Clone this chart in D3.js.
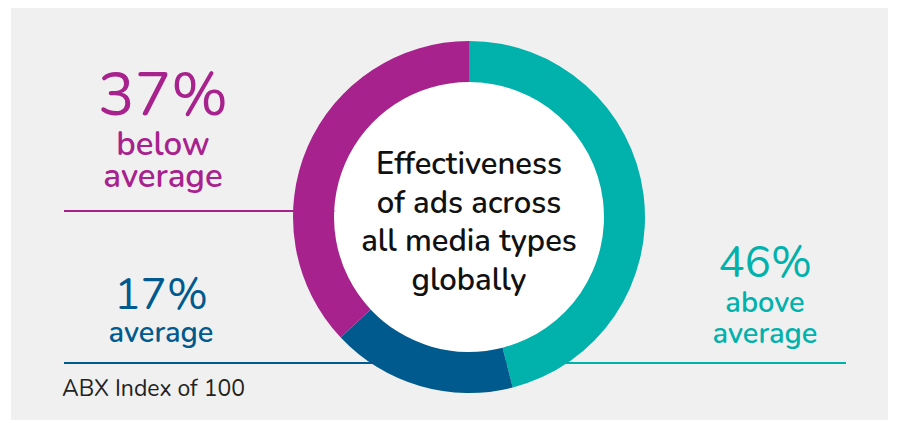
<!DOCTYPE html>
<html>
<head>
<meta charset="utf-8">
<script src="https://cdn.jsdelivr.net/npm/d3@7"></script>
<style>
  body { margin: 0; background: #fff; }
  text { font-family: "Nunito", "Lato", sans-serif; }
</style>
</head>
<body>
<script>
var categories = ["above average", "average", "below average"];
var values = [46, 17, 37];
var colors = ["#00B1AC", "#005A8D", "#A8228E"];
var centerLines = ["Effectiveness", "of ads across", "all media types", "globally"];

var width = 898, height = 425;
var cx = 469, cy = 217, outerR = 176, innerR = 135;

var svg = d3.select("body")
            .append("svg")
            .attr('width', width)
            .attr('height', height);

// grey panel
svg.append("rect")
   .attr('x', 11).attr('y', 8)
   .attr('width', 877).attr('height', 412)
   .attr('fill', "#F0F0F0");

// leader lines, drawn under the ring
var leaders = [
    { i: 2, y: 211, x1: 64, x2: cx },
    { i: 1, y: 363, x1: 64, x2: cx },
    { i: 0, y: 363, x1: cx, x2: 846 }
];
svg.selectAll("line.leader")
   .data(leaders)
   .enter()
   .append("line")
   .attr('class', "leader")
   .attr('x1', function(d){ return d.x1; })
   .attr('x2', function(d){ return d.x2; })
   .attr('y1', function(d){ return d.y; })
   .attr('y2', function(d){ return d.y; })
   .attr('stroke', function(d){ return colors[d.i]; })
   .attr('stroke-width', 2);

var pie = d3.pie().sort(null).value(function(d){ return d; });
var arc = d3.arc().innerRadius(innerR).outerRadius(outerR);

var g = svg.append("g")
           .attr('transform', "translate(" + cx + "," + cy + ")");

g.append("circle")
 .attr('r', innerR)
 .attr('fill', "#fff");

g.selectAll("path")
 .data(pie(values))
 .enter()
 .append("path")
 .attr('d', arc)
 .attr('fill', function(d,i){ return colors[i]; });

// centre title
g.selectAll("text.title")
 .data(centerLines)
 .enter()
 .append("text")
 .attr('class', "title")
 .attr('x', 0)
 .attr('y', function(d,i){ return -43 + i*38.7; })
 .attr('text-anchor', "middle")
 .attr('font-size', 31)
 .attr('font-weight', 600)
 .attr('fill', "#111")
 .text(function(d){ return d; });

// big labels
var labels = [
    { i: 2, x: 163, y: 115, size: 61, lines: ["below", "average"], ly: [155, 187], lsize: 33 },
    { i: 1, x: 161, y: 309, size: 44, lines: ["average"], ly: [341.5], lsize: 29 },
    { i: 0, x: 765, y: 277, size: 44, lines: ["above", "average"], ly: [311.5, 343], lsize: 29 }
];

labels.forEach(function(l){
    svg.append("text")
       .attr('x', l.x).attr('y', l.y)
       .attr('text-anchor', "middle")
       .attr('font-size', l.size)
       .attr('fill', colors[l.i])
       .text(values[l.i] + "%");
    l.lines.forEach(function(t, k){
        svg.append("text")
           .attr('x', l.x).attr('y', l.ly[k])
           .attr('text-anchor', "middle")
           .attr('font-size', l.lsize)
           .attr('font-weight', 600)
           .attr('fill', colors[l.i])
           .text(t);
    });
});

svg.append("text")
   .attr('x', 62).attr('y', 396)
   .attr('font-size', 23)
   .attr('fill', "#222")
   .text("ABX Index of 100");
</script>
</body>
</html>
